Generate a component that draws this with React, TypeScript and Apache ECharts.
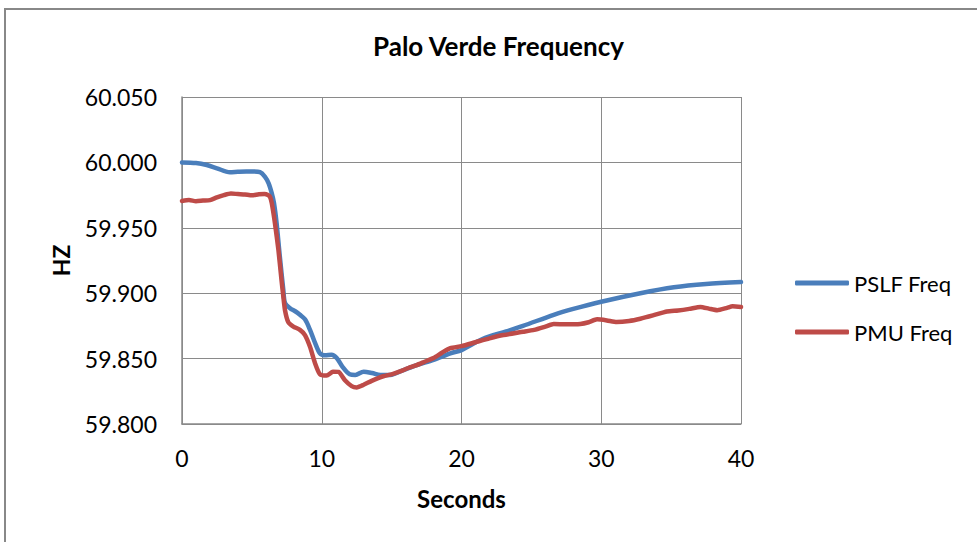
import React, { useEffect, useRef } from "react";
import * as echarts from "echarts";

const titleText = "Palo Verde Frequency";
const xName = "Seconds";
const yName = "HZ";
const seriesNames = ["PSLF Freq", "PMU Freq"];

const pslfT = [0, 1, 1.77, 2.5, 3.43, 4.0, 4.6, 5.1, 5.58, 5.94, 6.2, 6.42, 6.58, 6.77, 7.0, 7.25, 7.37, 7.73, 8.1, 8.44, 8.8, 9.16, 9.52, 9.87, 10.23, 10.7, 11.07, 11.5, 12.0, 12.4, 13.0, 13.6, 14.2, 14.9, 15.8, 16.8, 18.0, 19.2, 20.0, 21.5, 23.2, 24.4, 26.6, 28.0, 30.0, 32.8, 35.2, 37.5, 40];
const pslfV = [60.0, 59.9995, 59.998, 59.9955, 59.9925, 59.9928, 59.993, 59.993, 59.9925, 59.989, 59.984, 59.9765, 59.969, 59.9535, 59.928, 59.9025, 59.8925, 59.8885, 59.8862, 59.8835, 59.88, 59.872, 59.862, 59.854, 59.8525, 59.853, 59.8505, 59.8435, 59.838, 59.8375, 59.84, 59.839, 59.8375, 59.8375, 59.841, 59.845, 59.849, 59.854, 59.8565, 59.865, 59.8708, 59.875, 59.8835, 59.888, 59.8935, 59.9, 59.9045, 59.907, 59.9085];

const pmuT = [0, 0.5, 1, 1.5, 2, 2.5, 3, 3.5, 4, 4.5, 5, 5.5, 5.9, 6.15, 6.3, 6.42, 6.65, 6.9, 7.12, 7.25, 7.37, 7.6, 7.97, 8.44, 8.8, 9.16, 9.52, 9.87, 10.35, 10.8, 11.2, 11.66, 12.14, 12.5, 13.0, 13.57, 14.4, 15.0, 15.6, 16.2, 16.8, 17.4, 18.0, 18.6, 19.2, 20.0, 21.0, 22.0, 23.0, 24.4, 25.2, 26.0, 26.6, 27.5, 28.5, 29.1, 29.7, 30.4, 31.1, 32.0, 32.8, 33.7, 34.7, 35.5, 36.3, 37.1, 37.7, 38.3, 39.0, 39.4, 40];
const pmuV = [59.9705, 59.9712, 59.9703, 59.9708, 59.9712, 59.9733, 59.975, 59.9762, 59.9758, 59.9755, 59.9748, 59.9757, 59.9758, 59.975, 59.9735, 59.969, 59.9535, 59.933, 59.91, 59.8975, 59.887, 59.878, 59.8745, 59.872, 59.868, 59.859, 59.8465, 59.838, 59.837, 59.84, 59.8398, 59.8335, 59.829, 59.828, 59.83, 59.833, 59.8365, 59.838, 59.8402, 59.8428, 59.845, 59.8478, 59.8505, 59.8545, 59.858, 59.8595, 59.8625, 59.8655, 59.868, 59.8705, 59.872, 59.8745, 59.8765, 59.8762, 59.8765, 59.8778, 59.88, 59.8792, 59.878, 59.8788, 59.8805, 59.883, 59.886, 59.8868, 59.888, 59.8895, 59.8882, 59.887, 59.8888, 59.89, 59.8895];

const xTicks = { min: 0, max: 40, interval: 10 };
const yTicks = { min: 59.8, max: 60.05, interval: 0.05 };

const FONT = "Lato, 'Open Sans', sans-serif";
const GRID = "#8a8a8a";

export default function App() {
  const ref = useRef<HTMLDivElement>(null);
  useEffect(() => {
    if (!ref.current) return;
    const chart = echarts.init(ref.current, undefined, { renderer: "svg" });
    const pslf = pslfT.map((t, i) => [t, pslfV[i]]);
    const pmu = pmuT.map((t, i) => [t, pmuV[i]]);
    chart.setOption({
      animation: false,
      backgroundColor: "#ffffff",
      textStyle: { fontFamily: FONT },
      title: {
        text: titleText,
        left: 373,
        top: 33,
        padding: 0,
        textStyle: { fontFamily: FONT, fontSize: 26, fontWeight: "bold", color: "#000" },
      },
      graphic: [
        {
          type: "rect",
          shape: { x: 5, y: 9, width: 1000, height: 600 },
          style: { fill: "none", stroke: "#888888", lineWidth: 2 },
          silent: true,
          z: 0,
        },
      ],
      legend: {
        orient: "vertical",
        left: 795,
        top: 270,
        padding: 0,
        itemWidth: 54,
        itemHeight: 5,
        itemGap: 23,
        icon: "roundRect",
        textStyle: { fontFamily: FONT, fontSize: 22, color: "#000", lineHeight: 26 },
        data: seriesNames,
      },
      grid: { left: 182, top: 97, right: 236, bottom: 118, containLabel: false },
      xAxis: {
        type: "value",
        min: xTicks.min,
        max: xTicks.max,
        interval: xTicks.interval,
        name: xName,
        nameLocation: "middle",
        nameGap: 62,
        nameTextStyle: { fontFamily: FONT, fontSize: 24, fontWeight: "bold", color: "#000" },
        axisLine: { show: true, lineStyle: { color: GRID, width: 1.5 } },
        axisTick: { show: false },
        axisLabel: { fontFamily: FONT, fontSize: 23, color: "#000", margin: 22 },
        splitLine: { show: true, lineStyle: { color: GRID, width: 1 } },
      },
      yAxis: {
        type: "value",
        min: yTicks.min,
        max: yTicks.max,
        interval: yTicks.interval,
        name: yName,
        nameLocation: "middle",
        nameGap: 110,
        nameRotate: 90,
        nameTextStyle: { fontFamily: FONT, fontSize: 23, fontWeight: "bold", color: "#000" },
        axisLine: { show: true, lineStyle: { color: GRID, width: 1.5 } },
        axisTick: { show: false },
        axisLabel: {
          fontFamily: FONT,
          fontSize: 23,
          color: "#000",
          margin: 25,
          formatter: (v: number) => v.toFixed(3),
        },
        splitLine: { show: true, lineStyle: { color: GRID, width: 1 } },
      },
      series: [
        {
          name: seriesNames[0],
          type: "line",
          data: pslf,
          showSymbol: false,
          smooth: 0.3,
          lineStyle: { color: "#4A7EBB", width: 4.5, cap: "round", join: "round" },
          itemStyle: { color: "#4A7EBB" },
          z: 2,
        },
        {
          name: seriesNames[1],
          type: "line",
          data: pmu,
          showSymbol: false,
          smooth: 0.2,
          lineStyle: { color: "#BE4B48", width: 4.5, cap: "round", join: "round" },
          itemStyle: { color: "#BE4B48" },
          z: 3,
        },
      ],
    });
    return () => chart.dispose();
  }, []);
  return (
    <div
      ref={ref}
      style={{ position: "fixed", left: 0, top: 0, width: 977, height: 542 }}
    />
  );
}
